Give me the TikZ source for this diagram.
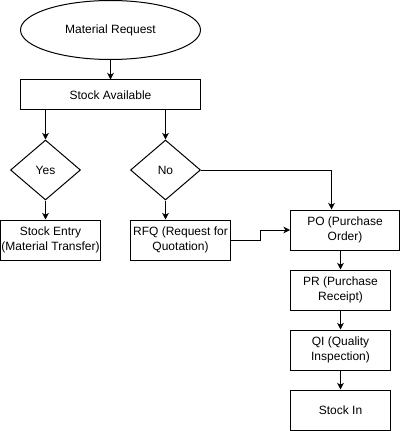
\documentclass[tikz,border=0pt]{standalone}
\usepackage{fontspec}
\setmainfont{Liberation Sans}
\usetikzlibrary{shapes.geometric,arrows.meta,calc}
\begin{document}
\begin{tikzpicture}[x=0.75pt,y=-0.75pt,
  every node/.style={font=\fontsize{9pt}{11.25pt}\selectfont, align=center, inner sep=0pt, line width=0.75pt},
  proc/.style={draw, rectangle, minimum width=75pt, minimum height=30pt},
  dec/.style={draw, diamond, minimum width=52.5pt, minimum height=45pt},
  term/.style={draw, ellipse, minimum width=135pt, minimum height=44.25pt},
  link/.style={draw, line width=0.75pt, -{Stealth[length=5pt,width=5pt,inset=1.5pt]}}]
\useasboundingbox (0,0) rectangle (401,431);
\node[term] (mr) at (110.5,30) {Material Request};
\node[proc, minimum width=135pt, minimum height=22.5pt] (sa) at (110.5,95) {Stock Available};
\node[dec] (yes) at (45.5,170) {Yes};
\node[dec] (no) at (165.5,170) {No};
\node[proc] (se) at (50.5,240) {Stock Entry\\(Material Transfer)};
\node[proc] (rfq) at (180.5,240) {RFQ (Request for\\Quotation)};
\node[proc, minimum width=81.75pt] (po) at (345,230) {PO (Purchase\\Order)};
\node[proc] (pr) at (340.5,290) {PR (Purchase\\Receipt)};
\node[proc] (qi) at (340.5,350) {QI (Quality\\Inspection)};
\node[proc] (si) at (340.5,410) {Stock In};
\coordinate (c1) at (331.5,170);
\coordinate (c2) at (260.5,240);
\draw[link] (mr.south) -- (sa.north);
\draw[link] (sa.south -| yes.north) -- (yes.north);
\draw[link] (sa.south -| no.north) -- (no.north);
\draw[link] (yes.south) -- (yes.south |- se.north);
\draw[link] (no.south) -- (no.south |- rfq.north);
\draw[link] (no.east) -- (c1) -- (c1 |- po.north);
\draw[link] (rfq.east) -- (c2) |- (po.west);
\draw[link] (po.south -| pr.north) -- (pr.north);
\draw[link] (pr.south) -- (qi.north);
\draw[link] (qi.south) -- (si.north);
\end{tikzpicture}
\end{document}
